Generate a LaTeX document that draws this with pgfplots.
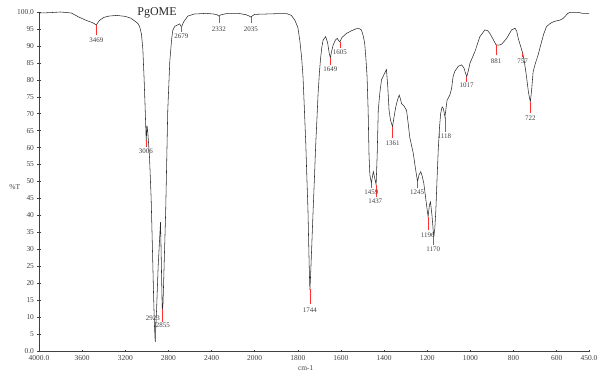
\documentclass[border=0pt]{standalone}
\usepackage{fontspec}
\setmainfont{Liberation Serif}
\usepackage{pgfplots}
\pgfplotsset{compat=1.18}
\definecolor{curve}{HTML}{2B2B2B}
\definecolor{txt}{HTML}{404040}
\definecolor{pk}{HTML}{FF3030}
\tikzset{lbl/.style={font=\fontsize{7}{8}\selectfont, color=txt, inner sep=0pt, anchor=center}}
\begin{document}
\begin{tikzpicture}
\path[use as bounding box] (0,0) rectangle (603bp,376bp);
\begin{axis}[
  at={(39bp,25bp)}, anchor=south west,
  scale only axis, width=550bp, height=339bp,
  x coord trafo/.code={\pgfmathparse{(#1>=2000)*(4000-#1)+(#1<2000)*(6000-2*#1)}},
  x coord inv trafo/.code={\pgfmathparse{(#1<=2000)*(4000-#1)+(#1>2000)*(3000-#1/2)}},
  xmin=4000, xmax=450, ymin=0, ymax=100,
  clip=false,
  axis x line=bottom, axis y line=left,
  axis line style={-, color=black!75, line width=0.5pt},
  tick style={color=black!75, line width=0.4pt},
  major tick length=3bp, tick align=center,
  xtick={4000,3600,3200,2800,2400,2000,1800,1600,1400,1200,1000,800,600,450},
  xticklabels={4000.0,3600,3200,2800,2400,2000,1800,1600,1400,1200,1000,800,600,450.0},
  ytick={0,5,10,15,20,25,30,35,40,45,50,55,60,65,70,75,80,85,90,95,100},
  yticklabels={0.0,5,10,15,20,25,30,35,40,45,50,55,60,65,70,75,80,85,90,95,100.0},
  tick label style={font=\fontsize{7.5}{9}\selectfont, color=txt},
  xlabel={cm-1}, ylabel={\%T},
  xlabel style={at={(axis description cs:0.485,-0.05)}, anchor=center, font=\fontsize{7.5}{9}\selectfont, color=txt},
  ylabel style={at={(axis description cs:-0.044,0.484)}, anchor=center, rotate=-90, font=\fontsize{7.5}{9}\selectfont, color=txt},
]
\addplot[curve, line width=0.55pt] coordinates {
(4000,99.7) (3900,99.8) (3800,100.0) (3700,99.7) (3630,98.5) (3560,97.5) (3500,96.8) (3469,96.2)
(3440,97.5) (3400,98.4) (3350,98.8) (3280,99.0) (3200,98.7) (3150,98.2) (3110,97.3) (3080,96.5)
(3065,95.5) (3050,93.5) (3037,89) (3025,80) (3015,71) (3006,62) (2998,66.5) (2990,64)
(2975,57) (2960,45) (2948,30) (2938,17) (2930,8) (2923,3) (2910,12) (2895,25) (2880,34) (2873,38)
(2865,25) (2858,13) (2855,12) (2850,14) (2840,25) (2825,41.6) (2806,71) (2787,85.5) (2770,92)
(2759,94.7) (2740,95.8) (2713,96.2) (2695,96.5) (2679,95.5) (2660,97) (2620,98.8) (2560,99.4)
(2450,99.6) (2380,99.4) (2350,99.2) (2332,98.8) (2310,99.2) (2250,99.6) (2150,99.6) (2080,99.2)
(2050,98.8) (2035,98.5) (2015,99.0) (2000,99.3) (1950,99.4) (1900,99.5) (1850,99.5) (1830,99.0)
(1814,97.6) (1800,95.5) (1791,91.7) (1783,87) (1776,81) (1770,72) (1763,61) (1758,51) (1753,41.6)
(1749,30) (1746,22) (1744,18) (1741,22) (1736,30) (1733,35) (1729,41.6) (1723,51) (1717,61)
(1711,69) (1706,76) (1700,82) (1695,86) (1689,89.5) (1683,91.7) (1671,92.7) (1662,91) (1655,88)
(1649,86.5) (1643,88.5) (1636,90.3) (1625,91.8) (1617,92.2) (1610,91.5) (1605,91.2) (1595,92.5)
(1574,93.7) (1550,94.5) (1528,95.1) (1515,95.1) (1505,94.7) (1497,93) (1490,90.8) (1484,86)
(1479,81) (1474,71) (1470,58) (1466,52) (1459,49.5) (1454,51.5) (1450,52.9) (1445,51.5) (1437,49)
(1432,58) (1427,71) (1420,76) (1412,80) (1397,82) (1389,83) (1383,78) (1377,71) (1370,68)
(1361,66.2) (1354,69) (1346,72) (1338,74) (1330,75.5) (1325,74.5) (1319,73) (1308,72.3) (1296,71)
(1288,67) (1281,63) (1265,58.4) (1255,54) (1245,50) (1238,52) (1230,52.9) (1223,51.5) (1216,49.5)
(1205,44) (1196,39.6) (1190,43) (1185,44) (1178,40) (1170,33.7) (1165,36) (1160,41.6) (1155,50)
(1149,59.3) (1143,66) (1138,70) (1131,72) (1125,71.5) (1118,69.1) (1112,72) (1108,74) (1095,75.5)
(1087,77.5) (1080,81) (1072,82.5) (1056,84) (1041,84.4) (1030,83.5) (1017,80.9) (1010,82.5)
(1002,84.9) (979,88.3) (956,92.7) (933,94.7) (920,94.5) (910,93.7) (895,92) (881,90.3) (868,90.2)
(855,90.5) (832,92.2) (809,94.7) (793,95.2) (785,94.3) (778,92.2) (770,90.5) (758,88) (750,85.5)
(740,81) (730,76) (722,73.5) (716,77) (709,82.4) (698,85) (686,87.3) (670,91.2) (660,93.5)
(647,95.7) (630,96.6) (616,97.1) (600,97.4) (585,97.6) (570,98.1) (562,98.6) (550,99.5)
(538,99.9) (500,99.9) (480,99.6) (450,99.6)
};
% peak markers
\addplot[pk, line width=0.6pt] coordinates {(3469,96.2) (3469,93.2)};
\addplot[pk, line width=0.6pt] coordinates {(2679,95.8) (2679,94.1)};
\addplot[pk, line width=0.6pt] coordinates {(2332,98.9) (2332,96.7)};
\addplot[pk, line width=0.6pt] coordinates {(2035,98.5) (2035,96.7)};
\addplot[pk, line width=0.6pt] coordinates {(3006,62.2) (3006,60.2)};
\addplot[pk, line width=0.6pt] coordinates {(2923,8.6) (2923,2.7)};
\addplot[pk, line width=0.6pt] coordinates {(2855,12.4) (2855,8.6)};
\addplot[pk, line width=0.6pt] coordinates {(1744,18.3) (1744,14)};
\addplot[pk, line width=0.6pt] coordinates {(1649,86.5) (1649,84.4)};
\addplot[pk, line width=0.6pt] coordinates {(1605,91.2) (1605,89.3)};
\addplot[pk, line width=0.6pt] coordinates {(1459,49.5) (1459,48)};
\addplot[pk, line width=0.6pt] coordinates {(1437,49) (1437,45.5)};
\addplot[pk, line width=0.6pt] coordinates {(1361,66.2) (1361,62.7)};
\addplot[pk, line width=0.6pt] coordinates {(1245,50) (1245,48)};
\addplot[pk, line width=0.6pt] coordinates {(1196,39.6) (1196,35.7)};
\addplot[pk, line width=0.6pt] coordinates {(1170,33.7) (1170,31.3)};
\addplot[pk, line width=0.6pt] coordinates {(1118,69.1) (1118,64.7)};
\addplot[pk, line width=0.6pt] coordinates {(1017,80.9) (1017,79.4)};
\addplot[pk, line width=0.6pt] coordinates {(881,90.3) (881,87.3)};
\addplot[pk, line width=0.6pt] coordinates {(757,88) (757,86.8)};
\addplot[pk, line width=0.6pt] coordinates {(722,73.5) (722,70.1)};
% title and peak labels
\node[font=\fontsize{12}{14}\selectfont, color=black!85, inner sep=0pt, anchor=center] at (axis description cs:0.2145,0.997) {PgOME};
\node[lbl] at (axis cs:3469,91.7) {3469};
\node[lbl] at (axis cs:2679,92.8) {2679};
\node[lbl] at (axis cs:2332,95.0) {2332};
\node[lbl] at (axis cs:2035,95.0) {2035};
\node[lbl] at (axis cs:3009,58.8) {3006};
\node[lbl] at (axis cs:2944,9.8) {2923};
\node[lbl] at (axis cs:2852,7.7) {2855};
\node[lbl] at (axis cs:1744,12.1) {1744};
\node[lbl] at (axis cs:1649,83.2) {1649};
\node[lbl] at (axis cs:1605,88.1) {1605};
\node[lbl] at (axis cs:1459,46.7) {1459};
\node[lbl] at (axis cs:1441,44.2) {1437};
\node[lbl] at (axis cs:1361,61.3) {1361};
\node[lbl] at (axis cs:1247,46.7) {1245};
\node[lbl] at (axis cs:1198,34.2) {1196};
\node[lbl] at (axis cs:1172,30.0) {1170};
\node[lbl] at (axis cs:1121,63.5) {1118};
\node[lbl] at (axis cs:1017,78.3) {1017};
\node[lbl] at (axis cs:881,85.6) {881};
\node[lbl] at (axis cs:758,85.6) {757};
\node[lbl] at (axis cs:722,68.6) {722};
\end{axis}
\end{tikzpicture}
\end{document}
